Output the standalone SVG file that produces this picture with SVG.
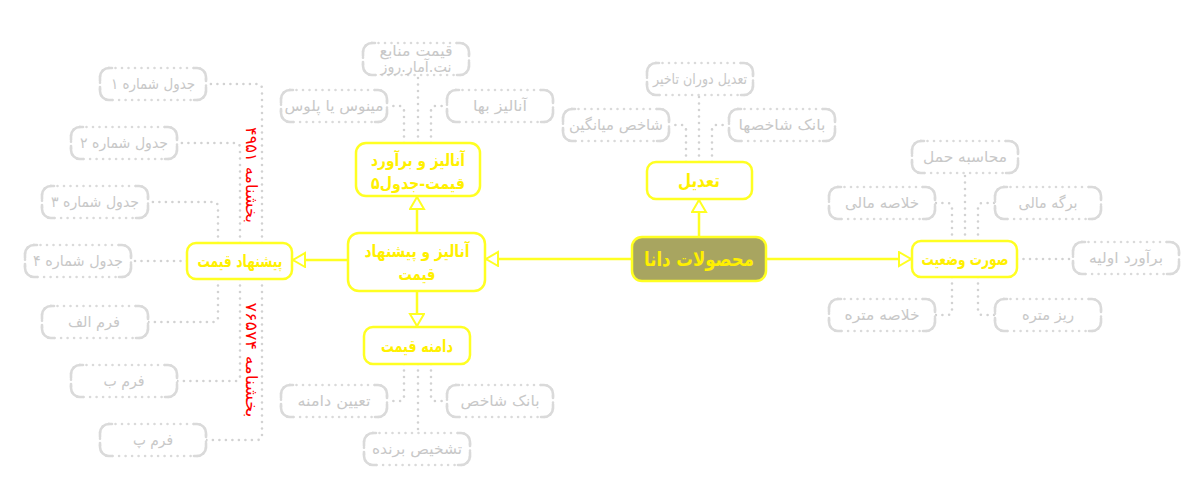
<svg xmlns="http://www.w3.org/2000/svg" xmlns:xlink="http://www.w3.org/1999/xlink" width="1200" height="499" viewBox="0 0 1200 499">
<style>
.yb{fill:#ffffff;stroke:#ffff22;stroke-width:2.5}
.yt{font-family:"DejaVu Sans",sans-serif;font-weight:bold;fill:#fff000;text-anchor:middle;direction:rtl}
.gt{font-family:"DejaVu Sans",sans-serif;font-size:15px;fill:#c8c8c8;text-anchor:middle;direction:rtl}
.yl{fill:none;stroke:#ffff22;stroke-width:2.5}
.gl{fill:none;stroke:#d2d2d2;stroke-width:2.6;stroke-dasharray:0 6.5;stroke-linecap:round}
.rt{font-family:"DejaVu Sans",sans-serif;font-size:16px;fill:#ff0000;text-anchor:middle;direction:rtl}
</style>
<defs>
<g id="gbox">
<rect x="0" y="0" width="106" height="32" rx="9" fill="#ffffff" stroke="#dadada" stroke-width="2.6" stroke-dasharray="0 6.5" stroke-linecap="round"/>
<path d="M0,13 V9 A9,9 0 0 1 9,0 H12 M94,0 H97 A9,9 0 0 1 106,9 V13 M106,19 V23 A9,9 0 0 1 97,32 H94 M12,32 H9 A9,9 0 0 1 0,23 V19" fill="none" stroke="#dadada" stroke-width="2.6" stroke-linecap="round"/>
</g>
<marker id="arr" markerUnits="userSpaceOnUse" markerWidth="16" markerHeight="18" refX="13" refY="8" orient="auto" viewBox="0 0 16 18">
<path d="M1,1 L13,8 L1,15 Z" fill="#ffffff" stroke="#ffff22" stroke-width="2"/>
</marker>
</defs>
<rect width="1200" height="499" fill="#ffffff"/>
<g id="connectors">
<path class="yl" d="M632,259 H486" marker-end="url(#arr)"/>
<path class="yl" d="M766,259 H911" marker-end="url(#arr)"/>
<path class="yl" d="M699,237 V200" marker-end="url(#arr)"/>
<path class="yl" d="M348,260 H293" marker-end="url(#arr)"/>
<path class="yl" d="M417,233 V197" marker-end="url(#arr)"/>
<path class="yl" d="M417,291 V326" marker-end="url(#arr)"/>
<path class="gl" d="M262,243 V89 Q262,84 257,84 H206"/>
<path class="gl" d="M240,243 V148 Q240,143 235,143 H177"/>
<path class="gl" d="M218,243 V207 Q218,202 213,202 H148"/>
<path class="gl" d="M187,261 H131"/>
<path class="gl" d="M218,279 V317 Q218,322 213,322 H148"/>
<path class="gl" d="M240,279 V376 Q240,381 235,381 H177"/>
<path class="gl" d="M262,279 V435 Q262,440 257,440 H206"/>
<path class="gl" d="M404,143 V111 Q404,106 399,106 H388"/>
<path class="gl" d="M418,143 V75"/>
<path class="gl" d="M431,143 V111 Q431,106 436,106 H447"/>
<path class="gl" d="M404,364 V396 Q404,401 399,401 H387"/>
<path class="gl" d="M418,364 V433"/>
<path class="gl" d="M431,364 V396 Q431,401 436,401 H447"/>
<path class="gl" d="M686,162 V130 Q686,125 681,125 H669"/>
<path class="gl" d="M699,162 V95"/>
<path class="gl" d="M712,162 V130 Q712,125 717,125 H729"/>
<path class="gl" d="M952,241 V208 Q952,203 947,203 H935"/>
<path class="gl" d="M965,241 V173"/>
<path class="gl" d="M978,241 V208 Q978,203 983,203 H995"/>
<path class="gl" d="M952,277 V310 Q952,315 947,315 H935"/>
<path class="gl" d="M978,277 V310 Q978,315 983,315 H995"/>
<path class="gl" d="M1017,259 H1073"/>
</g>
<g id="labels">
<text class="rt" transform="translate(246,175) rotate(90)" textLength="96" lengthAdjust="spacingAndGlyphs">بخشنامه ۴۹۵۱</text>
<text class="rt" transform="translate(246,360) rotate(90)" textLength="115" lengthAdjust="spacingAndGlyphs">بخشنامه ۷۶۵۷۴</text>
</g>
<g id="n-center">
<rect x="632" y="237" width="134" height="44" rx="10" fill="#a8a560" stroke="#ffff22" stroke-width="2.5"/>
<text class="yt" x="699" y="266" font-size="20" textLength="110" lengthAdjust="spacingAndGlyphs">محصولات دانا</text>
</g>
<g id="n-tadil">
<rect class="yb" x="647" y="162" width="105" height="37" rx="9"/>
<text class="yt" x="699" y="187" font-size="18" textLength="42" lengthAdjust="spacingAndGlyphs">تعدیل</text>
</g>
<g id="n-soorat">
<rect class="yb" x="912" y="241" width="105" height="36" rx="9"/>
<text class="yt" x="965" y="265" font-size="17" textLength="87" lengthAdjust="spacingAndGlyphs">صورت وضعیت</text>
</g>
<g id="n-analiz">
<rect class="yb" x="348" y="233" width="137" height="58" rx="11"/>
<text class="yt" x="417" y="257" font-size="17" textLength="105" lengthAdjust="spacingAndGlyphs">آنالیز و پیشنهاد</text>
<text class="yt" x="417" y="280" font-size="17" textLength="37" lengthAdjust="spacingAndGlyphs">قیمت</text>
</g>
<g id="n-pishnahad">
<rect class="yb" x="187" y="243" width="105" height="36" rx="9"/>
<text class="yt" x="240" y="267" font-size="17" textLength="85" lengthAdjust="spacingAndGlyphs">پیشنهاد قیمت</text>
</g>
<g id="n-baravord">
<rect class="yb" x="356" y="143" width="124" height="53" rx="10"/>
<text class="yt" x="418" y="166" font-size="16.5" textLength="94" lengthAdjust="spacingAndGlyphs">آنالیز و برآورد</text>
<text class="yt" x="418" y="189" font-size="16.5" textLength="94" lengthAdjust="spacingAndGlyphs">قیمت-جدول۵</text>
</g>
<g id="n-damane">
<rect class="yb" x="364" y="327" width="106" height="37" rx="9"/>
<text class="yt" x="417" y="352" font-size="17" textLength="72" lengthAdjust="spacingAndGlyphs">دامنه قیمت</text>
</g>
<g id="g-jadval1" transform="translate(100,68)"><use xlink:href="#gbox"/><text class="gt" x="53" y="21" textLength="84" lengthAdjust="spacingAndGlyphs">جدول شماره ۱</text></g>
<g id="g-jadval2" transform="translate(71,127)"><use xlink:href="#gbox"/><text class="gt" x="53" y="21" textLength="88" lengthAdjust="spacingAndGlyphs">جدول شماره ۲</text></g>
<g id="g-jadval3" transform="translate(42,186)"><use xlink:href="#gbox"/><text class="gt" x="53" y="21" textLength="88" lengthAdjust="spacingAndGlyphs">جدول شماره ۳</text></g>
<g id="g-jadval4" transform="translate(25,245)"><use xlink:href="#gbox"/><text class="gt" x="53" y="21" textLength="90" lengthAdjust="spacingAndGlyphs">جدول شماره ۴</text></g>
<g id="g-formalef" transform="translate(42,306)"><use xlink:href="#gbox"/><text class="gt" x="52" y="21" textLength="52" lengthAdjust="spacingAndGlyphs">فرم الف</text></g>
<g id="g-formb" transform="translate(71,365)"><use xlink:href="#gbox"/><text class="gt" x="53" y="21" textLength="41" lengthAdjust="spacingAndGlyphs">فرم ب</text></g>
<g id="g-formp" transform="translate(100,424)"><use xlink:href="#gbox"/><text class="gt" x="53" y="21" textLength="40" lengthAdjust="spacingAndGlyphs">فرم پ</text></g>
<g id="g-manabe" transform="translate(363,43)"><use xlink:href="#gbox"/><text class="gt" x="53" y="12.5" font-size="10.5" textLength="73" lengthAdjust="spacingAndGlyphs">قیمت منابع</text><text class="gt" x="53" y="29" font-size="10.5" textLength="71" lengthAdjust="spacingAndGlyphs">نت.آمار.روز</text></g>
<g id="g-minus" transform="translate(281,90)"><use xlink:href="#gbox"/><text class="gt" x="53" y="21" textLength="99" lengthAdjust="spacingAndGlyphs">مینوس یا پلوس</text></g>
<g id="g-baha" transform="translate(447,90)"><use xlink:href="#gbox"/><text class="gt" x="53" y="21" textLength="54" lengthAdjust="spacingAndGlyphs">آنالیز بها</text></g>
<g id="g-tayin" transform="translate(281,385)"><use xlink:href="#gbox"/><text class="gt" x="53" y="21" textLength="73" lengthAdjust="spacingAndGlyphs">تعیین دامنه</text></g>
<g id="g-bankshakhes" transform="translate(447,385)"><use xlink:href="#gbox"/><text class="gt" x="53" y="21" textLength="79" lengthAdjust="spacingAndGlyphs">بانک شاخص</text></g>
<g id="g-tashkhis" transform="translate(364,433)"><use xlink:href="#gbox"/><text class="gt" x="53" y="21" textLength="90" lengthAdjust="spacingAndGlyphs">تشخیص برنده</text></g>
<g id="g-doran" transform="translate(647,63)"><use xlink:href="#gbox"/><text class="gt" x="53" y="21" textLength="94" lengthAdjust="spacingAndGlyphs">تعدیل دوران تاخیر</text></g>
<g id="g-miangin" transform="translate(563,109)"><use xlink:href="#gbox"/><text class="gt" x="53" y="21" textLength="94" lengthAdjust="spacingAndGlyphs">شاخص میانگین</text></g>
<g id="g-shakhesha" transform="translate(729,109)"><use xlink:href="#gbox"/><text class="gt" x="53" y="21" textLength="87" lengthAdjust="spacingAndGlyphs">بانک شاخصها</text></g>
<g id="g-haml" transform="translate(912,141)"><use xlink:href="#gbox"/><text class="gt" x="53" y="21" textLength="84" lengthAdjust="spacingAndGlyphs">محاسبه حمل</text></g>
<g id="g-kholasemali" transform="translate(829,187)"><use xlink:href="#gbox"/><text class="gt" x="53" y="21" textLength="74" lengthAdjust="spacingAndGlyphs">خلاصه مالی</text></g>
<g id="g-bargemali" transform="translate(995,187)"><use xlink:href="#gbox"/><text class="gt" x="53" y="21" textLength="59" lengthAdjust="spacingAndGlyphs">برگه مالی</text></g>
<g id="g-baravordavalie" transform="translate(1073,242)"><use xlink:href="#gbox"/><text class="gt" x="53" y="21" textLength="74" lengthAdjust="spacingAndGlyphs">برآورد اولیه</text></g>
<g id="g-kholasemetre" transform="translate(829,299)"><use xlink:href="#gbox"/><text class="gt" x="53" y="21" textLength="75" lengthAdjust="spacingAndGlyphs">خلاصه متره</text></g>
<g id="g-rizmetre" transform="translate(995,299)"><use xlink:href="#gbox"/><text class="gt" x="53" y="21" textLength="52" lengthAdjust="spacingAndGlyphs">ریز متره</text></g>
</svg>
